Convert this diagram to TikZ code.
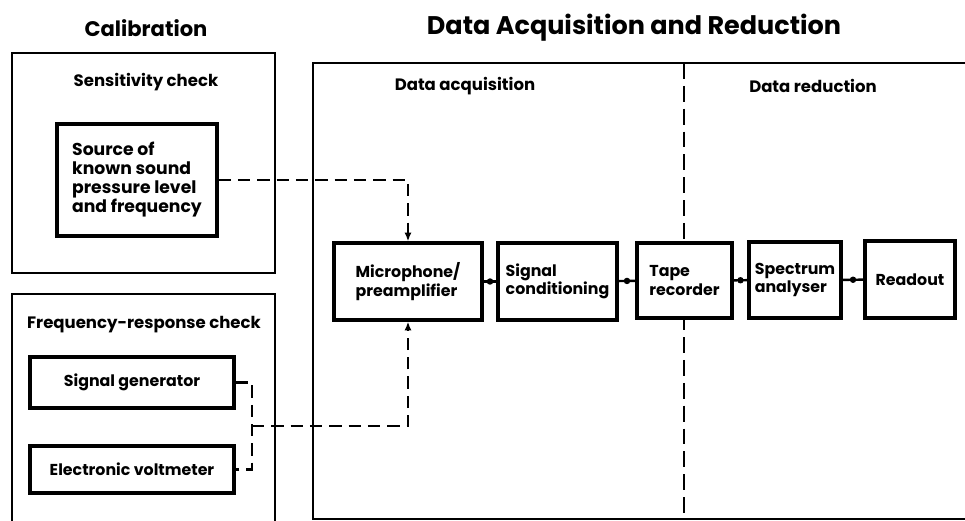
\documentclass[tikz,border=0pt]{standalone}
\usepackage{fontspec}
\setmainfont{Poppins}
\usepackage{tikz}
\usetikzlibrary{arrows, arrows.meta}
\tikzset{block/.style = {shape = rectangle, draw, line width = 1.8pt, fill = white, align = left, font = \fontsize{9}{10.5}\selectfont\bfseries}}
\tikzset{group/.style = {shape = rectangle, draw, line width = 1.5pt, minimum width = 52.6mm}}
\tikzset{heading/.style = {font = \fontsize{9.4}{11}\selectfont\bfseries}}
\tikzset{title/.style = {font = \fontsize{12}{14}\selectfont\bfseries}}
\tikzset{edge/.style = {-, line width = 1.4pt}}
\tikzset{feed/.style = {-{Latex[length = 5pt, width = 4pt]}, line width = 1.4pt, dash pattern = on 7pt off 4pt}}
\tikzset{dotmark/.style = {shape = circle, fill, inner sep = 1.3pt}}

\begin{document}
\begin{tikzpicture}[x = 0.2mm, y = -0.2mm]
				\useasboundingbox (0, 0) rectangle (965, 520);

				\node[title] (caltitle) at (146, 28) {Calibration};
				\node[title, font = \fontsize{14.5}{16}\selectfont\bfseries] (dartitle) at (634, 28) {Data Acquisition and Reduction};

				\node[group, minimum height = 44mm] (sens) at (143.5, 163) {};
				\node[heading] (senstitle) at (146, 82) {Sensitivity check};
				\draw[line width = 1.5pt] (12, 530) |- (275, 294) -- (275, 530);
				\node[heading] (freqtitle) at (144, 325) {Frequency-response check};

				\draw[line width = 1.5pt] (975, 63) -| (313, 519) -- (975, 519);
				\draw[line width = 1.4pt, dash pattern = on 9pt off 4pt] (684, 63) -- (684, 519);
				\node[heading] (acqtitle) at (465, 86) {Data acquisition};
				\node[heading] (redtitle) at (813, 86) {Data reduction};

				\node[block, minimum width = 32mm, minimum height = 22.4mm, font = \fontsize{9.8}{10.8}\selectfont\bfseries] (src) at (137, 180) {Source of\\known sound\\pressure level\\and frequency};
				\node[block, minimum width = 40.8mm, minimum height = 10.2mm, align = center] (gen) at (132, 382.5) {Signal generator};
				\node[block, minimum width = 40.8mm, minimum height = 9.4mm, align = center] (volt) at (132, 469.5) {Electronic voltmeter};

				\node[block, minimum width = 29.6mm, minimum height = 15.4mm] (mic) at (408, 281.5) {Microphone/\\preamplifier};
				\node[block, minimum width = 23.8mm, minimum height = 15.4mm] (cond) at (557.5, 281.5) {Signal\\conditioning};
				\node[block, minimum width = 19mm, minimum height = 15mm] (tape) at (684.5, 280.5) {Tape\\recorder};
				\node[block, minimum width = 18mm, minimum height = 15.2mm] (spec) at (795, 280) {Spectrum\\analyser};
				\node[block, minimum width = 18mm, minimum height = 15.4mm, align = center] (read) at (910, 279.5) {Readout};

				\coordinate (junc) at (252, 426);

				\draw[edge] (mic) -- node[dotmark] {} (cond);
				\draw[edge] (cond) -- node[dotmark] {} (tape);
				\draw[edge] (tape) -- node[dotmark] {} (spec);
				\draw[edge] (spec) -- node[dotmark] {} (read);

				\draw[feed] (src.east) -| (mic.north);
				\draw[edge, dash pattern = on 7pt off 4pt] (gen.east) -| (junc) |- (volt.east);
				\draw[feed] (junc) -| (mic.south);
			\end{tikzpicture}
\end{document}
